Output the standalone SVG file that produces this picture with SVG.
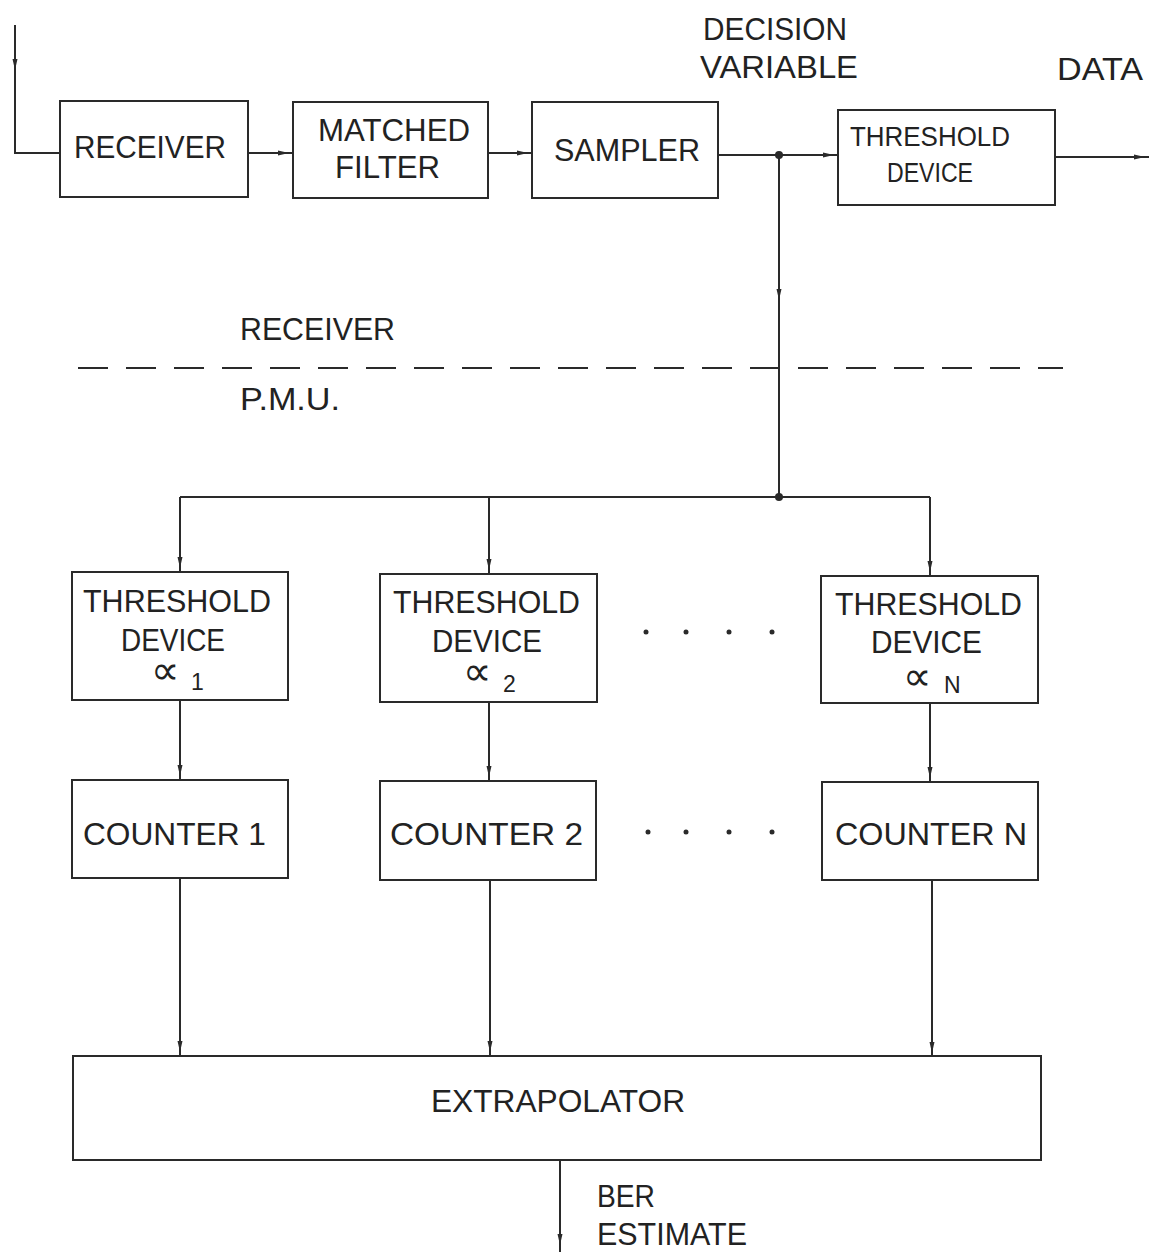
<svg xmlns="http://www.w3.org/2000/svg" width="1149" height="1252" viewBox="0 0 1149 1252">
<style>
.box{fill:none;stroke:#2a2a2a;stroke-width:2}
.ln{fill:none;stroke:#2a2a2a;stroke-width:2}
.ar{fill:none;stroke:#2a2a2a;stroke-width:2;marker-end:url(#ah)}
.t{font-family:"Liberation Sans",Arial,sans-serif;font-size:31px;fill:#222}
.tm{font-family:"Liberation Sans",Arial,sans-serif;font-size:28px;fill:#222}
.ts{font-family:"Liberation Sans",Arial,sans-serif;font-size:23px;fill:#222}
.sym{font-family:"DejaVu Sans",sans-serif;font-size:40px;fill:#222}
.dot{fill:#2a2a2a}
</style>
<defs>
<marker id="ah" viewBox="0 0 16 8" refX="15" refY="4" markerWidth="16" markerHeight="8" markerUnits="userSpaceOnUse" orient="auto">
<path d="M0,1.5 L11,4 L0,6.5 z" fill="#2a2a2a"/>
</marker>
<marker id="ahm" viewBox="0 0 12 8" refX="11" refY="4" markerWidth="12" markerHeight="8" markerUnits="userSpaceOnUse" orient="auto">
<path d="M0,1.5 L11,4 L0,6.5 z" fill="#2a2a2a"/>
</marker>
</defs>

<g id="connectors">
<path class="ln" d="M15,25 V70" marker-end="url(#ahm)"/>
<path class="ln" d="M15,70 V153 H60"/>
<path class="ar" d="M248,153 H293"/>
<path class="ar" d="M488,153 H532"/>
<path class="ar" d="M718,155 H838"/>
<path class="ar" d="M1055,157 H1149"/>
<path class="ln" d="M779,155 V300" marker-end="url(#ahm)"/>
<path class="ln" d="M779,300 V497"/>
<circle class="dot" cx="779" cy="155" r="4"/>
<circle class="dot" cx="779" cy="497" r="4"/>
<path class="ln" d="M180,497 H930"/>
<path class="ar" d="M180,497 V572"/>
<path class="ar" d="M489,497 V574"/>
<path class="ar" d="M930,497 V576"/>
<path class="ar" d="M180,700 V780"/>
<path class="ar" d="M489,702 V781"/>
<path class="ar" d="M930,703 V782"/>
<path class="ar" d="M180,878 V1056"/>
<path class="ar" d="M490,880 V1056"/>
<path class="ar" d="M932,880 V1057"/>
<path class="ln" d="M560,1160 V1245" marker-end="url(#ahm)"/>
<path class="ln" d="M560,1245 V1252"/>
<path class="ln" d="M78,368 H1063" stroke-dasharray="30 18"/>
</g>

<g id="labels">
<text class="t" x="703" y="40" textLength="144" lengthAdjust="spacingAndGlyphs">DECISION</text>
<text class="t" x="700" y="78" textLength="158" lengthAdjust="spacingAndGlyphs">VARIABLE</text>
<text class="t" x="1057" y="80" textLength="86" lengthAdjust="spacingAndGlyphs">DATA</text>
<text class="t" x="240" y="340" textLength="155" lengthAdjust="spacingAndGlyphs">RECEIVER</text>
<text class="t" x="240" y="410" textLength="100" lengthAdjust="spacingAndGlyphs">P.M.U.</text>
<text class="t" x="597" y="1207" textLength="58" lengthAdjust="spacingAndGlyphs">BER</text>
<text class="t" x="597" y="1245" textLength="150" lengthAdjust="spacingAndGlyphs">ESTIMATE</text>
</g>

<g id="receiver">
<rect class="box" x="60" y="101" width="188" height="96"/>
<text class="t" x="74" y="158" textLength="152" lengthAdjust="spacingAndGlyphs">RECEIVER</text>
</g>
<g id="matched-filter">
<rect class="box" x="293" y="102" width="195" height="96"/>
<text class="t" x="318" y="141" textLength="152" lengthAdjust="spacingAndGlyphs">MATCHED</text>
<text class="t" x="335" y="178" textLength="105" lengthAdjust="spacingAndGlyphs">FILTER</text>
</g>
<g id="sampler">
<rect class="box" x="532" y="102" width="186" height="96"/>
<text class="t" x="554" y="161" textLength="146" lengthAdjust="spacingAndGlyphs">SAMPLER</text>
</g>
<g id="threshold-device">
<rect class="box" x="838" y="110" width="217" height="95"/>
<text class="tm" x="850" y="146" textLength="160" lengthAdjust="spacingAndGlyphs">THRESHOLD</text>
<text class="tm" x="887" y="182" textLength="86" lengthAdjust="spacingAndGlyphs">DEVICE</text>
</g>

<g id="threshold-1">
<rect class="box" x="72" y="572" width="216" height="128"/>
<text class="t" x="83" y="612" textLength="188" lengthAdjust="spacingAndGlyphs">THRESHOLD</text>
<text class="t" x="121" y="651" textLength="104" lengthAdjust="spacingAndGlyphs">DEVICE</text>
<text class="sym" x="151" y="684">∝</text>
<text class="ts" x="191" y="690">1</text>
</g>
<g id="threshold-2">
<rect class="box" x="380" y="574" width="217" height="128"/>
<text class="t" x="393" y="613" textLength="187" lengthAdjust="spacingAndGlyphs">THRESHOLD</text>
<text class="t" x="432" y="652" textLength="110" lengthAdjust="spacingAndGlyphs">DEVICE</text>
<text class="sym" x="463" y="685">∝</text>
<text class="ts" x="503" y="692">2</text>
</g>
<g id="threshold-n">
<rect class="box" x="821" y="576" width="217" height="127"/>
<text class="t" x="835" y="615" textLength="187" lengthAdjust="spacingAndGlyphs">THRESHOLD</text>
<text class="t" x="871" y="653" textLength="111" lengthAdjust="spacingAndGlyphs">DEVICE</text>
<text class="sym" x="903" y="690">∝</text>
<text class="ts" x="944" y="693">N</text>
</g>
<g id="dots-1">
<circle class="dot" cx="646" cy="632" r="2.5"/>
<circle class="dot" cx="686" cy="632" r="2.5"/>
<circle class="dot" cx="729" cy="632" r="2.5"/>
<circle class="dot" cx="772" cy="632" r="2.5"/>
</g>

<g id="counter-1">
<rect class="box" x="72" y="780" width="216" height="98"/>
<text class="t" x="83" y="845" textLength="183" lengthAdjust="spacingAndGlyphs">COUNTER 1</text>
</g>
<g id="counter-2">
<rect class="box" x="380" y="781" width="216" height="99"/>
<text class="t" x="390" y="845" textLength="193" lengthAdjust="spacingAndGlyphs">COUNTER 2</text>
</g>
<g id="counter-n">
<rect class="box" x="822" y="782" width="216" height="98"/>
<text class="t" x="835" y="845" textLength="192" lengthAdjust="spacingAndGlyphs">COUNTER N</text>
</g>
<g id="dots-2">
<circle class="dot" cx="648" cy="832" r="2.5"/>
<circle class="dot" cx="686" cy="832" r="2.5"/>
<circle class="dot" cx="729" cy="832" r="2.5"/>
<circle class="dot" cx="772" cy="832" r="2.5"/>
</g>

<g id="extrapolator">
<rect class="box" x="73" y="1056" width="968" height="104"/>
<text class="t" x="431" y="1112" textLength="254" lengthAdjust="spacingAndGlyphs">EXTRAPOLATOR</text>
</g>
</svg>
